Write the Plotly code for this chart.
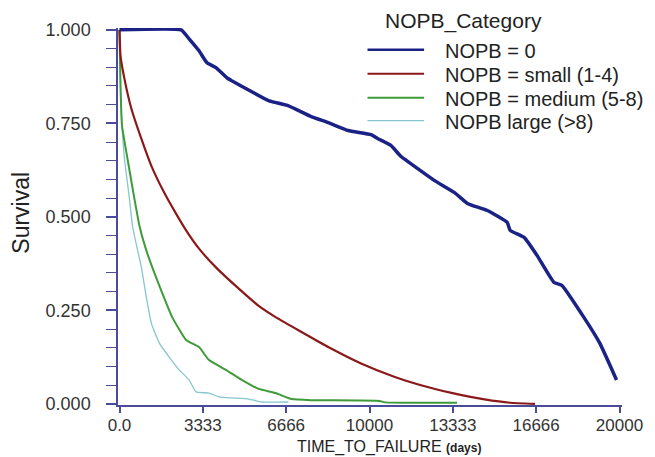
import plotly.graph_objects as go

# ---- data ----
series_names = ["NOPB = 0", "NOPB = small (1-4)", "NOPB = medium (5-8)", "NOPB large (>8)"]

t_zero = [0, 2465, 2783, 3181, 3499, 3857, 4294, 4490, 5200, 5960, 6760, 7670, 8350, 9145,
          10060, 10338, 10855, 11252, 11928, 12604, 13400, 13917, 14712, 15507, 15626, 16183,
          16700, 17376, 17694, 18569, 19205, 19881]
s_zero = [1.0, 1.0, 0.976, 0.944, 0.912, 0.899, 0.872, 0.864, 0.838, 0.811, 0.797, 0.768, 0.752, 0.731,
          0.720, 0.709, 0.691, 0.662, 0.629, 0.597, 0.565, 0.536, 0.517, 0.485, 0.464, 0.445,
          0.397, 0.325, 0.317, 0.232, 0.163, 0.064]

t_small = [0, 40, 198, 476, 873, 1270, 1786, 2302, 2664, 3181, 3857, 4771, 5567, 6243, 7157,
           8350, 9662, 11014, 12326, 13638, 14600, 15626, 16620]
s_small = [1.0, 0.931, 0.869, 0.789, 0.709, 0.637, 0.565, 0.504, 0.464, 0.415, 0.365, 0.308, 0.262,
           0.232, 0.197, 0.152, 0.108, 0.072, 0.045, 0.024, 0.012, 0.003, 0.0]

t_medium = [0, 40, 100, 318, 595, 794, 1050, 1312, 1710, 2107, 2664, 3181, 3579, 4254, 4890, 5567,
            6243, 6879, 7674, 10400, 10616, 13500]
s_medium = [1.0, 0.85, 0.744, 0.656, 0.549, 0.477, 0.415, 0.365, 0.296, 0.232, 0.171, 0.152, 0.117,
            0.091, 0.064, 0.040, 0.029, 0.013, 0.010, 0.008, 0.004, 0.003]

t_large = [0, 60, 198, 397, 516, 660, 875, 1074, 1272, 1590, 1988, 2386, 2783, 3062, 3579, 3976,
           5169, 5686, 6760]
s_large = [1.0, 0.8, 0.656, 0.549, 0.477, 0.43, 0.365, 0.285, 0.216, 0.163, 0.125, 0.091, 0.064,
           0.032, 0.029, 0.019, 0.013, 0.005, 0.005]

x_tickvals = [0, 3333, 6666, 10000, 13333, 16666, 20000]
x_ticktext = ["0.0", "3333", "6666", "10000", "13333", "16666", "20000"]

# ---- styles ----
colors = ["#1b2286", "#8a1a1a", "#3f9b3a", "#86c6cf"]
widths = [3.5, 2.2, 2.0, 1.3]
axis_color = "#4b4b9c"
font_family = "Liberation Sans, Arial, sans-serif"

# the page body has an 8px margin, so the figure is drawn 8px in from the window corner
OFF = 8
W, H = 655 - OFF, 457 - OFF
x_range = [-60, 20100]
y_range = [-0.003, 1.005]
px_per_day = 504 / 20000.0
px_per_unit = 375.0
x0_win, y1_win, y0_win = 120, 29, 404
left = (x0_win - OFF) - (0 - x_range[0]) * px_per_day
right_fig = (x0_win - OFF) + x_range[1] * px_per_day
top = (y1_win - OFF) - (y_range[1] - 1.0) * px_per_unit
bottom_fig = (y0_win - OFF) + (0 - y_range[0]) * px_per_unit
plot_w = right_fig - left
plot_h = bottom_fig - top


def px_x(p):
    """window pixel -> paper x"""
    return (p - OFF - left) / plot_w


def px_y(p):
    """window pixel -> paper y"""
    return (bottom_fig - (p - OFF)) / plot_h


fig = go.Figure()
data = [(t_zero, s_zero), (t_small, s_small), (t_medium, s_medium), (t_large, s_large)]
for i in [3, 2, 1, 0]:
    t, s = data[i]
    fig.add_trace(go.Scatter(x=t, y=s, mode="lines", name=series_names[i],
                             line=dict(color=colors[i], width=widths[i], shape="spline",
                                       smoothing=0.4),
                             showlegend=False))

annotations = []
shapes = []
annotations.append(dict(text="NOPB_Category", xref="paper", yref="paper",
                        x=px_x(386), y=px_y(20), xanchor="left", yanchor="middle",
                        showarrow=False, font=dict(size=21, color="#222", family=font_family)))
row_y = [49, 73, 97, 120]
for i, name in enumerate(series_names):
    shapes.append(dict(type="line", xref="paper", yref="paper",
                       x0=px_x(370), x1=px_x(427), y0=px_y(row_y[i]), y1=px_y(row_y[i]),
                       line=dict(color=colors[i], width=min(widths[i], 2.5))))
    annotations.append(dict(text=name, xref="paper", yref="paper",
                            x=px_x(446), y=px_y(row_y[i] + 1), xanchor="left", yanchor="middle",
                            showarrow=False, font=dict(size=20, color="#222", family=font_family)))

annotations.append(dict(text="Survival", xref="paper", yref="paper",
                        x=px_x(21), y=px_y(212), xanchor="center", yanchor="middle",
                        textangle=-90, showarrow=False,
                        font=dict(size=23, color="#222", family=font_family)))
annotations.append(dict(text="TIME_TO_FAILURE <b><span style='font-size:12px'>(days)</span></b>",
                        xref="paper", yref="paper",
                        x=px_x(392), y=px_y(447), xanchor="center", yanchor="middle",
                        showarrow=False, font=dict(size=16, color="#222", family=font_family)))

fig.update_layout(
    width=W, height=H,
    margin=dict(l=left, r=W - right_fig, t=top, b=H - bottom_fig, pad=0),
    paper_bgcolor="white", plot_bgcolor="white",
    font=dict(family=font_family, color="#333"),
    showlegend=False,
    annotations=annotations,
    shapes=shapes,
)
fig.update_xaxes(range=x_range, tickmode="array", tickvals=x_tickvals, ticktext=x_ticktext,
                 showline=True, linecolor=axis_color, linewidth=1.5, mirror=False,
                 ticks="outside", ticklen=6, tickwidth=1.5, tickcolor=axis_color,
                 showgrid=False, zeroline=False, ticklabelstandoff=-2,
                 tickfont=dict(size=17, color="#333", family=font_family))
fig.update_yaxes(range=y_range, tickmode="linear", tick0=0, dtick=0.25, tickformat=".3f",
                 showline=True, linecolor=axis_color, linewidth=1.5, mirror=False,
                 ticks="outside", ticklen=10, tickwidth=1.5, tickcolor=axis_color,
                 minor=dict(dtick=0.05, tick0=0, ticks="outside", ticklen=10, tickwidth=1.2,
                            tickcolor=axis_color, showgrid=False),
                 showgrid=False, zeroline=False, ticklabelstandoff=12,
                 tickfont=dict(size=18, color="#333", family=font_family))

fig.write_html("out.html")
